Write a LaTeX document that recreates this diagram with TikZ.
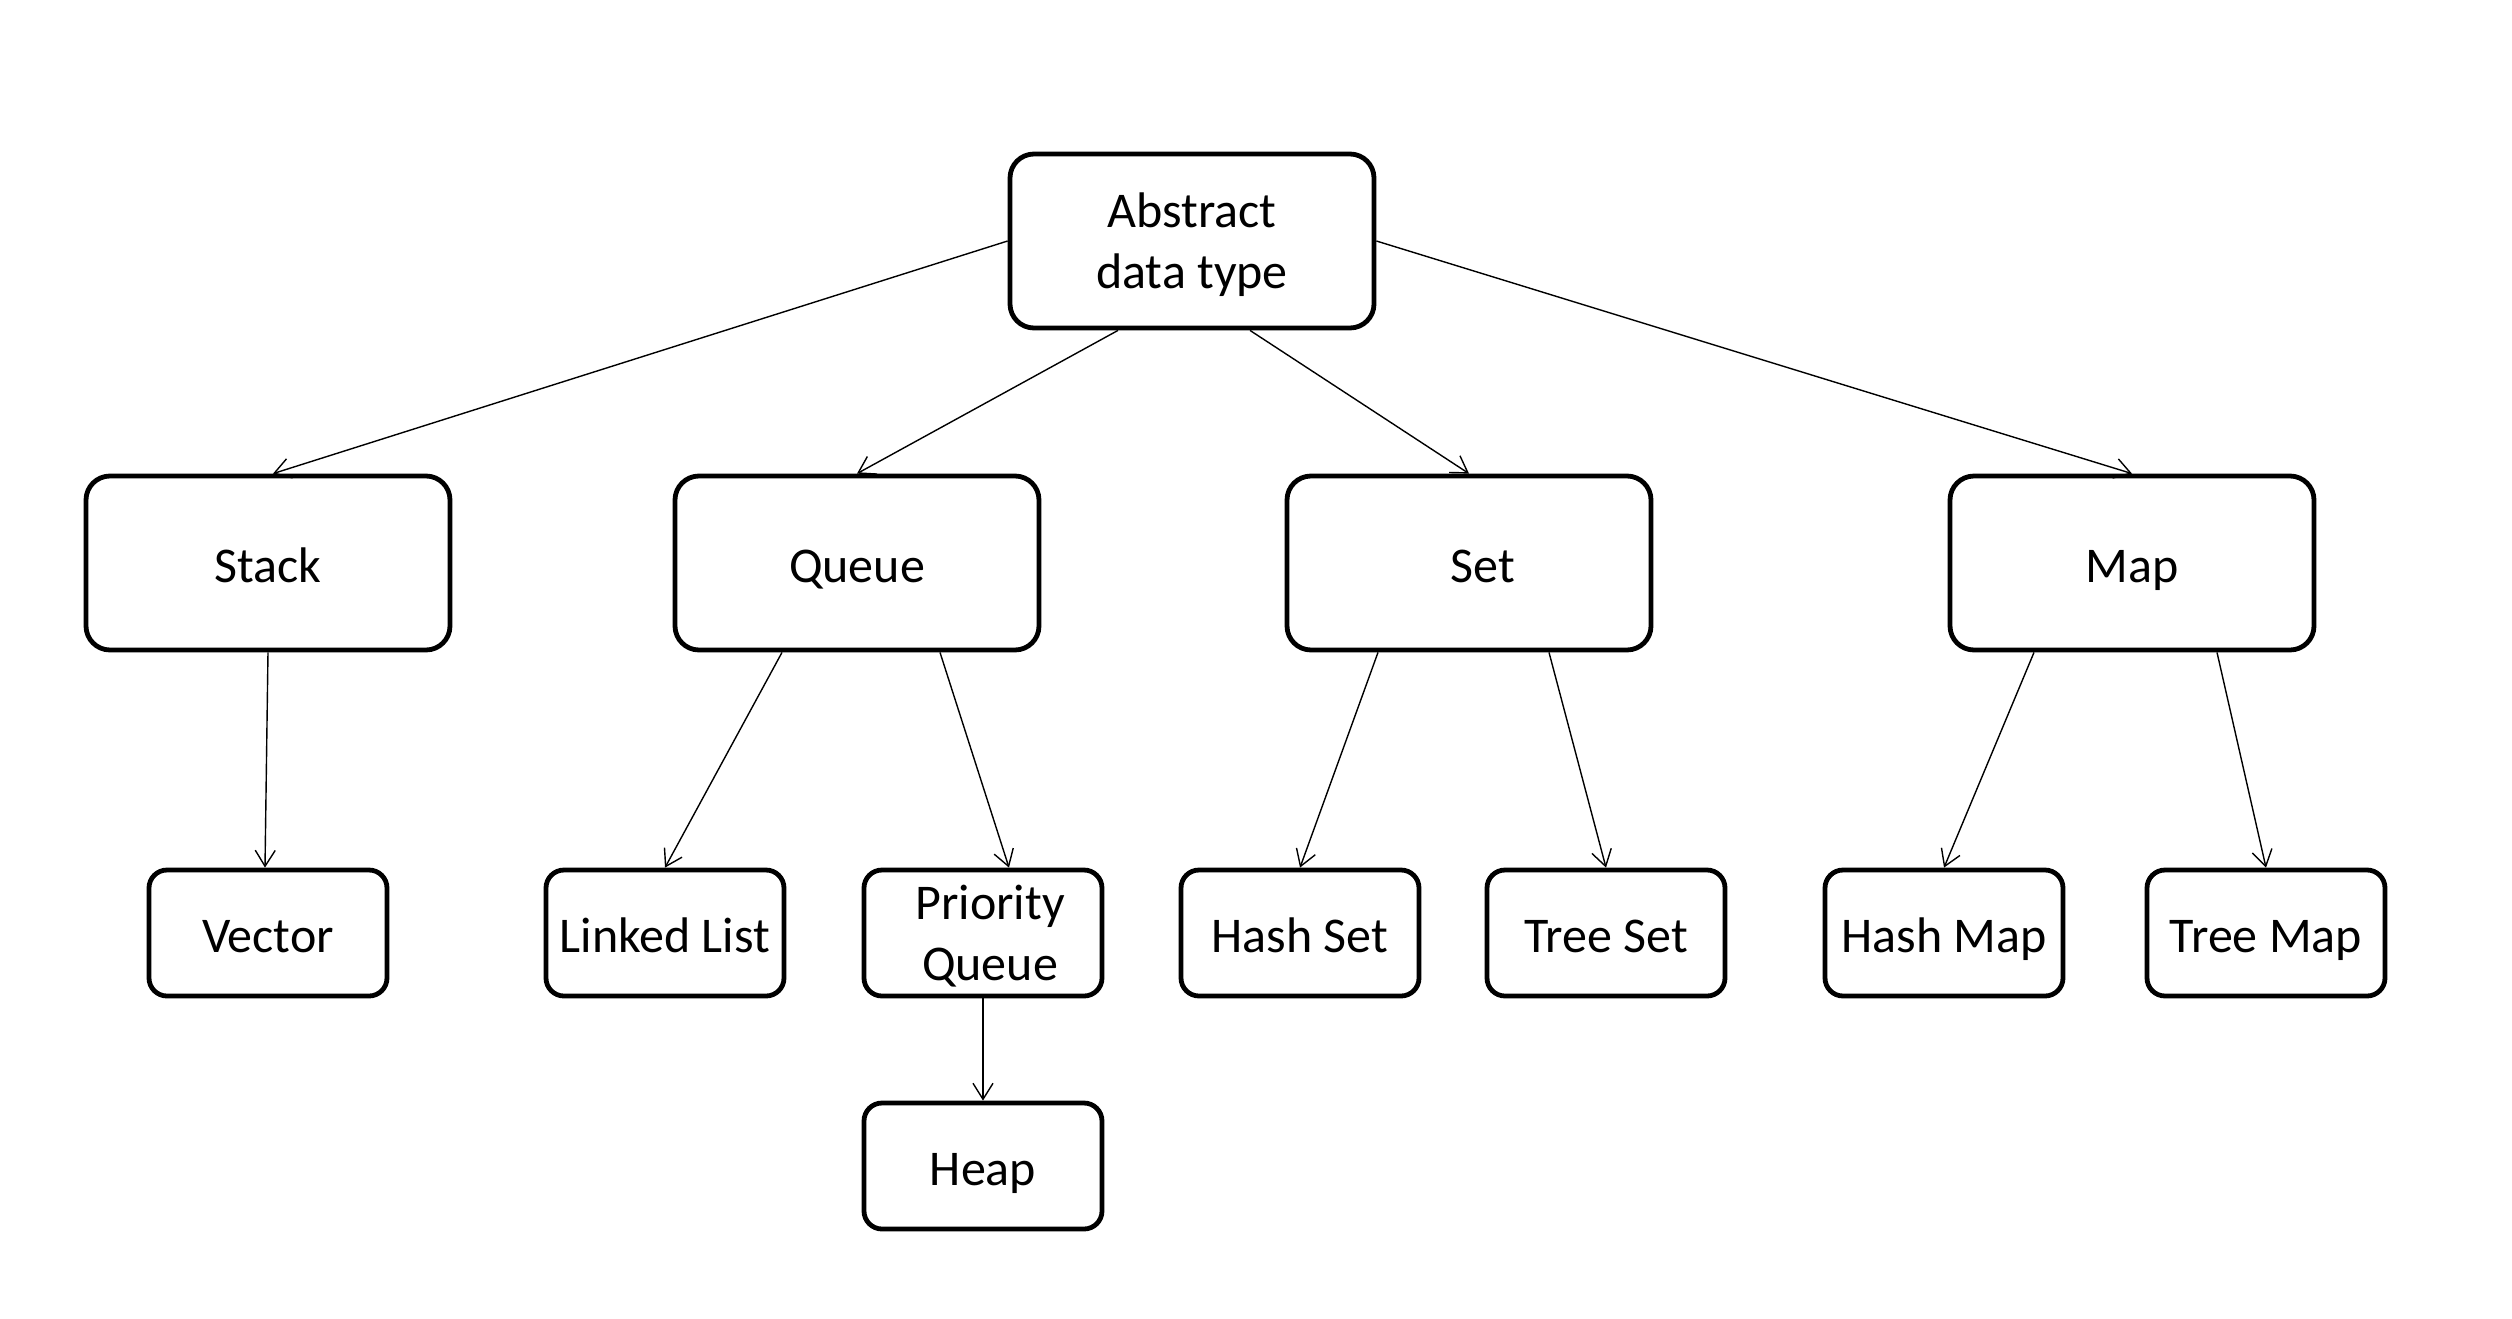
\documentclass[tikz,border=0pt]{standalone}
\usepackage{fontspec}
\setmainfont{Carlito}
\usetikzlibrary{arrows.meta}
\begin{document}
\begin{tikzpicture}[x=0.5pt,y=-0.5pt,
  boxbase/.style={draw,line width=2.4pt,inner sep=2pt,align=center,font=\fontsize{25}{30.4}\selectfont,text height=22pt,text depth=3pt},
  bigbox/.style={boxbase,rounded corners=12pt,minimum width=182pt,minimum height=87pt},
  smallbox/.style={boxbase,rounded corners=9pt,minimum width=119pt,minimum height=63pt},
  twolines/.style={text height=50.4pt,text depth=3pt},
  link/.style={line width=0.7pt,-{Straight Barb[length=8pt,width=10pt,line width=0.7pt]}}]
\useasboundingbox (0,0) rectangle (2512,1318);
% top level
\node[bigbox,twolines] (abs) at (1192,241) {Abstract\\data type};
% second level
\node[bigbox] (stack) at (268,563) {Stack};
\node[bigbox] (queue) at (857,563) {Queue};
\node[bigbox] (set) at (1469,563) {\hspace*{14pt}Set};
\node[bigbox] (map) at (2132,563) {Map};
% third level
\node[smallbox] (vector) at (268,933) {Vector};
\node[smallbox] (linked) at (665,933) {Linked List};
\node[smallbox,twolines] (pq) at (983,933) {\hspace*{7pt}Priority\\\hspace*{7pt}Queue};
\node[smallbox] (hashset) at (1300,933) {Hash Set};
\node[smallbox] (treeset) at (1606,933) {Tree Set};
\node[smallbox] (hashmap) at (1944,933) {Hash Map};
\node[smallbox] (treemap) at (2266,933) {Tree Map};
% fourth level
\node[smallbox] (heap) at (983,1166) {Heap};
% connectors
\draw[link] (abs.west) -- ([xshift=2.5pt]stack.north);
\draw[link] ([xshift=-37pt]abs.south) -- (queue.north);
\draw[link] ([xshift=29pt]abs.south) -- (set.north);
\draw[link] (abs.east) -- (map.north);
\draw[link] (stack.south) -- ([xshift=-1.5pt]vector.north);
\draw[link] ([xshift=-37.5pt]queue.south) -- (linked.north);
\draw[link] ([xshift=41.5pt]queue.south) -- ([xshift=13pt]pq.north);
\draw[link] ([xshift=-45.5pt]set.south) -- (hashset.north);
\draw[link] ([xshift=40pt]set.south) -- (treeset.north);
\draw[link] ([xshift=-49pt]map.south) -- (hashmap.north);
\draw[link] ([xshift=42.5pt]map.south) -- (treemap.north);
\draw[link] (pq.south) -- (heap.north);
\end{tikzpicture}
\end{document}
